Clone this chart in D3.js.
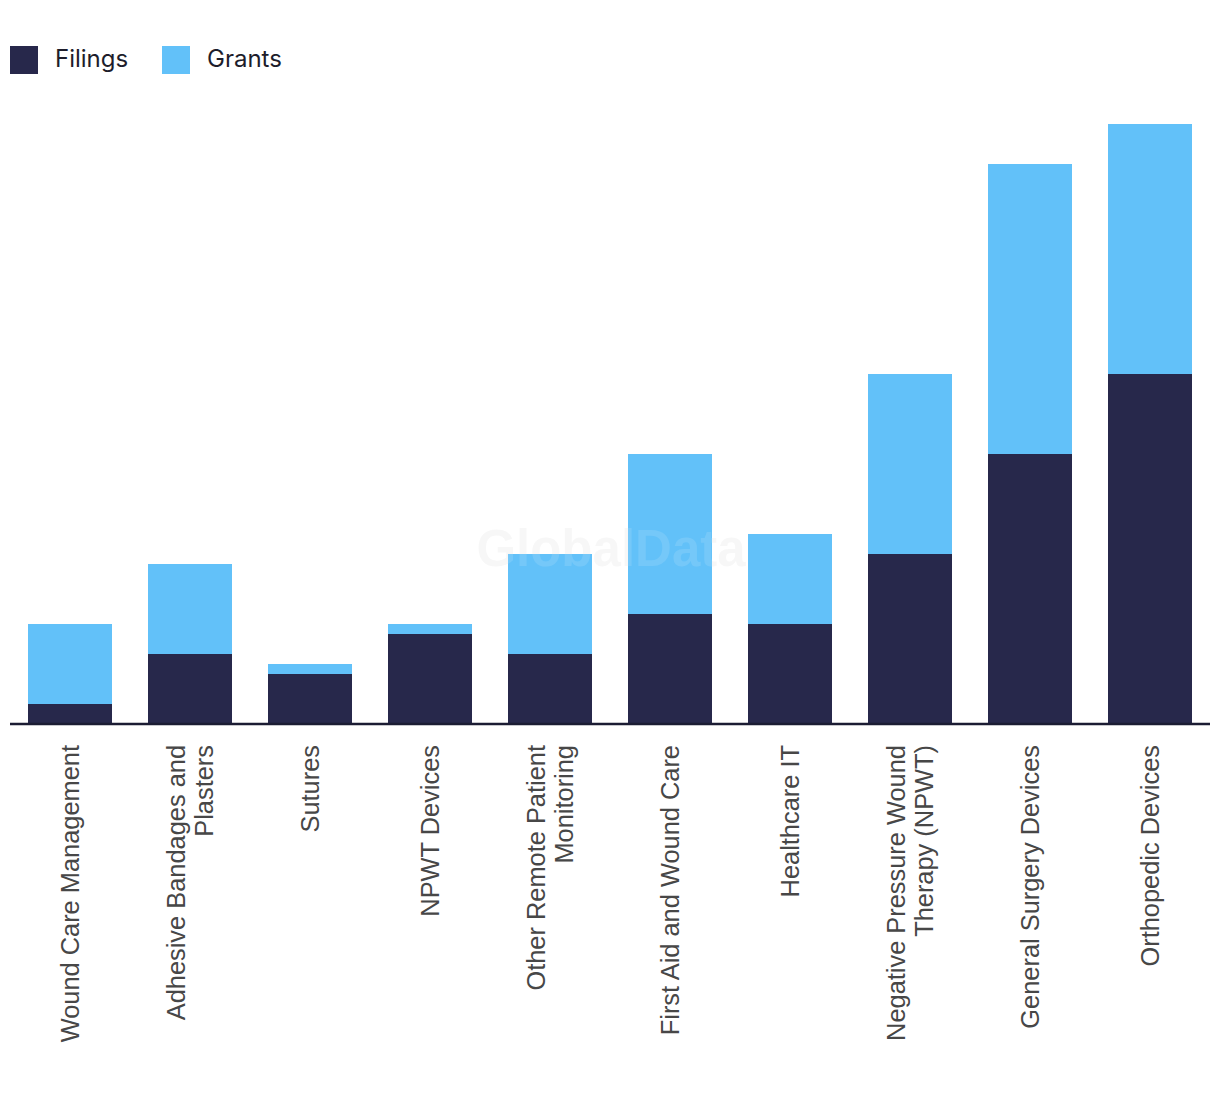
<!DOCTYPE html>
<html>
<head>
<meta charset="utf-8">
<script src="https://cdn.jsdelivr.net/npm/d3@7"></script>
<style>
  html, body { margin: 0; padding: 0; background: #ffffff; }
  svg { display: block; }
</style>
</head>
<body>
<svg id="chart" width="1220" height="1094"></svg>
<script>
const categories = [
  ["Wound Care Management"],
  ["Adhesive Bandages and", "Plasters"],
  ["Sutures"],
  ["NPWT Devices"],
  ["Other Remote Patient", "Monitoring"],
  ["First Aid and Wound Care"],
  ["Healthcare IT"],
  ["Negative Pressure Wound", "Therapy (NPWT)"],
  ["General Surgery Devices"],
  ["Orthopedic Devices"]
];
const filings = [2, 7, 5, 9, 7, 11, 10, 17, 27, 35];
const grants  = [8, 9, 1, 1, 10, 16, 9, 18, 29, 25];
const seriesNames = ["Filings", "Grants"];
const seriesColors = ["#27284b", "#62c1f9"];

const svg = d3.select("#chart");
const keys = categories.map(c => c.join(" "));
const rows = keys.map((k, i) => ({ key: k, Filings: filings[i], Grants: grants[i] }));

const x = d3.scaleBand().domain(keys).range([10, 1210]).paddingInner(0.3).paddingOuter(0.15);
const y = d3.scaleLinear().domain([0, 60]).range([724, 124]);

// watermark
svg.append("text")
  .attr("x", 611).attr("y", 566)
  .attr("text-anchor", "middle")
  .attr("font-family", "Liberation Sans, Arial, sans-serif")
  .attr("font-weight", "bold")
  .attr("font-size", 51)
  .attr("fill", "#000")
  .attr("fill-opacity", 0.035)
  .text("GlobalData");

const stack = d3.stack().keys(seriesNames)(rows);
const color = d3.scaleOrdinal().domain(seriesNames).range(seriesColors);

svg.append("g").selectAll("g").data(stack).join("g")
  .attr("fill", d => color(d.key))
  .selectAll("rect").data(d => d).join("rect")
  .attr("x", d => x(d.data.key))
  .attr("width", x.bandwidth())
  .attr("y", d => y(d[1]))
  .attr("height", d => y(d[0]) - y(d[1]));

// watermark overlay (on top, very faint)
svg.append("text")
  .attr("x", 611).attr("y", 566)
  .attr("text-anchor", "middle")
  .attr("font-family", "Liberation Sans, Arial, sans-serif")
  .attr("font-weight", "bold")
  .attr("font-size", 51)
  .attr("fill", "#ffffff")
  .attr("fill-opacity", 0.12)
  .text("GlobalData");

// baseline axis
const xAxis = d3.axisBottom(x).tickSize(0).tickFormat("");
const axG = svg.append("g").attr("transform", "translate(0,724)").call(xAxis);
axG.select(".domain").attr("stroke", "#1b1c33").attr("stroke-width", 2.5).attr("d", "M10,0H1210");

// labels
const lab = svg.append("g");
categories.forEach((lines, i) => {
  const cx = x(keys[i]) + x.bandwidth() / 2;
  const t = lab.append("text")
    .attr("transform", `translate(${cx},745) rotate(-90)`)
    .attr("text-anchor", "end")
    .attr("font-family", "Liberation Sans, Arial, sans-serif")
    .attr("font-size", 25.4)
    .attr("fill", "#474747");
  const n = lines.length;
  lines.forEach((ln, j) => {
    t.append("tspan")
      .attr("x", 0)
      .attr("y", 0)
      .attr("dy", (0.35 + (j - (n - 1) / 2) * 1.08) + "em")
      .text(ln);
  });
});

// legend
const leg = svg.append("g");
const legX = [10, 162];
seriesNames.forEach((s, i) => {
  leg.append("rect").attr("x", legX[i]).attr("y", 46).attr("width", 28).attr("height", 28).attr("fill", seriesColors[i]);
  leg.append("text").attr("x", legX[i] + 45).attr("y", 67)
    .attr("font-family", "Inter, 'Open Sans', sans-serif")
    .attr("font-size", 24)
    .attr("fill", "#1d1d2b")
    .text(s);
});
</script>
</body>
</html>
